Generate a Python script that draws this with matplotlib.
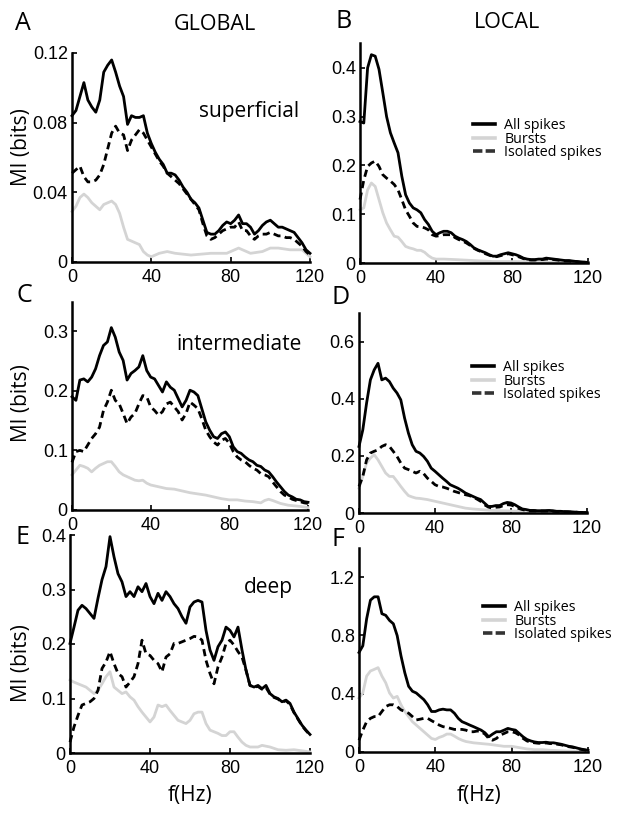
import matplotlib
matplotlib.use("Agg")
import matplotlib.pyplot as plt
from matplotlib.lines import Line2D

# ---------------- data ----------------
freq = list(range(0, 121, 2))

# Panel A (GLOBAL, superficial)
A_all = [0.084, 0.087, 0.095, 0.103, 0.093, 0.089, 0.086, 0.093, 0.109, 0.113, 0.116,
         0.109, 0.101, 0.095, 0.079, 0.084, 0.083, 0.083, 0.084, 0.074, 0.068,
         0.063, 0.059, 0.056, 0.051, 0.051, 0.050, 0.047, 0.043, 0.040, 0.036,
         0.034, 0.031, 0.024, 0.017, 0.016, 0.016, 0.018, 0.021, 0.023, 0.022,
         0.024, 0.027, 0.022, 0.022, 0.020, 0.016, 0.018, 0.021, 0.023, 0.024,
         0.022, 0.020, 0.020, 0.019, 0.018, 0.017, 0.014, 0.011, 0.007, 0.005]
A_iso = [0.051, 0.053, 0.055, 0.049, 0.046, 0.046, 0.047, 0.050, 0.056, 0.065, 0.074,
         0.078, 0.074, 0.073, 0.064, 0.070, 0.073, 0.076, 0.074, 0.070, 0.066,
         0.062, 0.058, 0.055, 0.051, 0.049, 0.047, 0.045, 0.042, 0.039, 0.036,
         0.033, 0.030, 0.022, 0.015, 0.013, 0.014, 0.016, 0.018, 0.019, 0.020,
         0.020, 0.023, 0.018, 0.018, 0.015, 0.013, 0.015, 0.016, 0.016, 0.017,
         0.016, 0.015, 0.015, 0.014, 0.014, 0.013, 0.011, 0.009, 0.006, 0.004]
A_burst_f = [0, 2, 4, 6, 8, 10, 12, 14, 16, 18, 20, 22, 24, 26, 28, 30, 32, 34, 36, 38,
             40, 44, 48, 52, 60, 70, 78, 84, 90, 96, 100, 104, 110, 116, 120]
A_burst = [0.029, 0.032, 0.037, 0.039, 0.037, 0.034, 0.032, 0.030, 0.033, 0.034, 0.035,
           0.033, 0.028, 0.020, 0.013, 0.012, 0.011, 0.010, 0.006, 0.004,
           0.003, 0.005, 0.006, 0.005, 0.004, 0.005, 0.005, 0.008, 0.005, 0.006,
           0.008, 0.008, 0.007, 0.007, 0.003]

# Panel B (LOCAL, superficial)
B_all = [0.290, 0.287, 0.400, 0.427, 0.424, 0.397, 0.349, 0.300, 0.267, 0.246, 0.226,
         0.178, 0.140, 0.123, 0.113, 0.109, 0.103, 0.089, 0.079, 0.065, 0.058,
         0.062, 0.065, 0.065, 0.062, 0.055, 0.051, 0.048, 0.044, 0.038, 0.031,
         0.027, 0.024, 0.021, 0.017, 0.014, 0.014, 0.017, 0.019, 0.021, 0.019,
         0.017, 0.014, 0.010, 0.008, 0.007, 0.007, 0.008, 0.008, 0.010, 0.009,
         0.008, 0.007, 0.006, 0.005, 0.005, 0.004, 0.003, 0.002, 0.002, 0.001]
B_iso = [0.130, 0.170, 0.198, 0.205, 0.209, 0.198, 0.181, 0.174, 0.168, 0.161, 0.150,
         0.130, 0.109, 0.096, 0.082, 0.075, 0.074, 0.072, 0.068, 0.058, 0.055,
         0.056, 0.058, 0.058, 0.058, 0.052, 0.048, 0.045, 0.041, 0.036, 0.030,
         0.026, 0.023, 0.019, 0.016, 0.013, 0.013, 0.015, 0.017, 0.019, 0.017,
         0.015, 0.012, 0.009, 0.007, 0.006, 0.006, 0.007, 0.007, 0.008, 0.008,
         0.007, 0.006, 0.005, 0.004, 0.004, 0.003, 0.003, 0.002, 0.001, 0.001]
B_burst_f = [0, 2, 4, 6, 8, 10, 12, 14, 16, 18, 20, 22, 24, 26, 28, 30, 32, 34, 36, 38,
             40, 44, 50, 60, 70, 80, 100, 120]
B_burst = [0.109, 0.113, 0.150, 0.164, 0.157, 0.130, 0.103, 0.082, 0.068, 0.055, 0.053,
           0.044, 0.034, 0.031, 0.029, 0.026, 0.026, 0.022, 0.015, 0.010,
           0.008, 0.008, 0.007, 0.005, 0.003, 0.003, 0.002, 0.001]

# Panel C (GLOBAL, intermediate)
C_all = [0.190, 0.184, 0.218, 0.220, 0.215, 0.223, 0.237, 0.259, 0.276, 0.282, 0.306,
         0.290, 0.265, 0.251, 0.218, 0.229, 0.234, 0.240, 0.259, 0.234, 0.223,
         0.220, 0.209, 0.198, 0.215, 0.206, 0.201, 0.187, 0.173, 0.184, 0.201,
         0.198, 0.192, 0.170, 0.148, 0.134, 0.123, 0.120, 0.128, 0.131, 0.123,
         0.106, 0.098, 0.095, 0.089, 0.084, 0.081, 0.075, 0.073, 0.067, 0.064,
         0.056, 0.047, 0.039, 0.031, 0.025, 0.022, 0.018, 0.017, 0.014, 0.013]
C_iso = [0.080, 0.098, 0.100, 0.098, 0.109, 0.120, 0.128, 0.139, 0.167, 0.181, 0.201,
         0.184, 0.178, 0.162, 0.145, 0.156, 0.162, 0.178, 0.192, 0.190, 0.173,
         0.167, 0.159, 0.165, 0.178, 0.181, 0.173, 0.165, 0.151, 0.162, 0.181,
         0.176, 0.170, 0.153, 0.134, 0.123, 0.114, 0.109, 0.117, 0.120, 0.112,
         0.098, 0.089, 0.084, 0.081, 0.075, 0.070, 0.067, 0.061, 0.059, 0.056,
         0.047, 0.039, 0.031, 0.025, 0.022, 0.018, 0.016, 0.014, 0.012, 0.011]
C_burst_f = [0, 2, 4, 6, 8, 10, 12, 14, 16, 18, 20, 22, 24, 26, 28, 30, 32, 34, 36, 38,
             40, 44, 48, 52, 56, 60, 64, 68, 72, 76, 80, 84, 88, 92, 96, 98, 100, 102,
             106, 110, 116, 120]
C_burst = [0.059, 0.067, 0.075, 0.073, 0.070, 0.064, 0.070, 0.075, 0.078, 0.081, 0.081,
           0.073, 0.064, 0.059, 0.056, 0.053, 0.050, 0.049, 0.050, 0.045,
           0.042, 0.039, 0.036, 0.035, 0.032, 0.029, 0.027, 0.025, 0.022, 0.019,
           0.017, 0.017, 0.015, 0.014, 0.012, 0.016, 0.018, 0.016,
           0.011, 0.008, 0.006, 0.004]

# Panel D (LOCAL, intermediate)
D_all = [0.233, 0.291, 0.385, 0.466, 0.501, 0.524, 0.466, 0.472, 0.460, 0.437, 0.420,
         0.396, 0.332, 0.280, 0.239, 0.216, 0.210, 0.198, 0.181, 0.157, 0.146,
         0.134, 0.122, 0.111, 0.099, 0.093, 0.087, 0.079, 0.070, 0.064, 0.058,
         0.052, 0.047, 0.035, 0.023, 0.023, 0.026, 0.026, 0.033, 0.037, 0.035,
         0.029, 0.021, 0.014, 0.012, 0.009, 0.009, 0.008, 0.008, 0.008, 0.009,
         0.008, 0.006, 0.006, 0.005, 0.005, 0.004, 0.003, 0.002, 0.002, 0.002]
D_iso = [0.093, 0.128, 0.186, 0.210, 0.216, 0.221, 0.233, 0.239, 0.233, 0.216, 0.198,
         0.175, 0.157, 0.152, 0.146, 0.140, 0.146, 0.138, 0.122, 0.111, 0.099,
         0.093, 0.091, 0.087, 0.082, 0.076, 0.072, 0.068, 0.064, 0.061, 0.056,
         0.049, 0.041, 0.029, 0.021, 0.017, 0.020, 0.021, 0.026, 0.029, 0.028,
         0.023, 0.016, 0.012, 0.009, 0.007, 0.007, 0.007, 0.007, 0.007, 0.007,
         0.006, 0.005, 0.004, 0.004, 0.003, 0.003, 0.003, 0.002, 0.002, 0.002]
D_burst_f = [0, 2, 4, 6, 8, 10, 12, 14, 16, 18, 20, 22, 24, 26, 28, 30, 32, 34, 36, 38,
             40, 44, 48, 52, 56, 60, 70, 80, 90, 100, 120]
D_burst = [0.087, 0.128, 0.175, 0.192, 0.204, 0.186, 0.163, 0.140, 0.128, 0.128, 0.111,
           0.093, 0.076, 0.061, 0.056, 0.052, 0.051, 0.049, 0.047, 0.044,
           0.041, 0.035, 0.029, 0.023, 0.017, 0.014, 0.009, 0.007, 0.005, 0.003, 0.002]

# Panel E (GLOBAL, deep)
E_all = [0.201, 0.231, 0.262, 0.271, 0.265, 0.256, 0.247, 0.284, 0.318, 0.342, 0.397,
         0.360, 0.329, 0.314, 0.287, 0.296, 0.287, 0.305, 0.296, 0.311, 0.287,
         0.274, 0.293, 0.280, 0.296, 0.287, 0.274, 0.265, 0.250, 0.238, 0.268,
         0.277, 0.280, 0.277, 0.225, 0.189, 0.170, 0.195, 0.207, 0.231, 0.225,
         0.213, 0.231, 0.189, 0.152, 0.124, 0.121, 0.124, 0.118, 0.124, 0.109,
         0.103, 0.100, 0.094, 0.097, 0.091, 0.075, 0.063, 0.051, 0.042, 0.034]
E_iso = [0.020, 0.048, 0.069, 0.088, 0.091, 0.094, 0.100, 0.115, 0.155, 0.167, 0.186,
         0.164, 0.146, 0.140, 0.121, 0.130, 0.140, 0.164, 0.207, 0.182, 0.179,
         0.170, 0.164, 0.149, 0.176, 0.182, 0.201, 0.201, 0.204, 0.207, 0.210,
         0.214, 0.213, 0.207, 0.170, 0.146, 0.127, 0.158, 0.176, 0.201, 0.207,
         0.198, 0.186, 0.176, 0.152, 0.124, 0.121, 0.122, 0.117, 0.120, 0.108,
         0.102, 0.099, 0.093, 0.096, 0.089, 0.074, 0.062, 0.050, 0.041, 0.033]
E_burst_f = [0, 2, 4, 6, 8, 10, 12, 14, 16, 18, 20, 22, 24, 26, 28, 30, 32, 34, 36, 38,
             40, 42, 44, 46, 48, 50, 52, 54, 56, 58, 60, 62, 64, 66, 68, 70, 72, 74,
             76, 78, 80, 82, 84, 86, 88, 90, 94, 96, 100, 104, 108, 112, 116, 120]
E_burst = [0.134, 0.130, 0.127, 0.124, 0.121, 0.115, 0.109, 0.115, 0.127, 0.140, 0.149,
           0.121, 0.115, 0.109, 0.112, 0.103, 0.097, 0.085, 0.075, 0.066,
           0.057, 0.066, 0.088, 0.085, 0.088, 0.078, 0.069, 0.060, 0.057, 0.054,
           0.060, 0.072, 0.075, 0.075, 0.054, 0.042, 0.039, 0.036,
           0.032, 0.032, 0.039, 0.039, 0.029, 0.020, 0.014, 0.011, 0.011, 0.014,
           0.011, 0.006, 0.005, 0.006, 0.004, 0.002]

# Panel F (LOCAL, deep)
F_all = [0.683, 0.729, 0.914, 1.042, 1.065, 1.065, 0.949, 0.938, 0.903, 0.880, 0.799,
         0.660, 0.544, 0.451, 0.417, 0.405, 0.382, 0.359, 0.324, 0.278, 0.278,
         0.289, 0.294, 0.289, 0.289, 0.266, 0.231, 0.208, 0.197, 0.185, 0.174,
         0.162, 0.150, 0.132, 0.104, 0.123, 0.139, 0.139, 0.150, 0.162, 0.155,
         0.150, 0.127, 0.104, 0.086, 0.076, 0.069, 0.065, 0.065, 0.067, 0.063,
         0.063, 0.058, 0.053, 0.046, 0.039, 0.035, 0.028, 0.021, 0.016, 0.012]
F_iso = [0.081, 0.150, 0.208, 0.231, 0.243, 0.243, 0.278, 0.312, 0.324, 0.324, 0.312,
         0.289, 0.278, 0.266, 0.243, 0.220, 0.225, 0.231, 0.231, 0.215, 0.201,
         0.185, 0.174, 0.169, 0.162, 0.155, 0.155, 0.155, 0.150, 0.139, 0.139,
         0.144, 0.139, 0.123, 0.093, 0.081, 0.093, 0.116, 0.127, 0.139, 0.139,
         0.132, 0.116, 0.093, 0.076, 0.067, 0.063, 0.060, 0.060, 0.062, 0.058,
         0.058, 0.053, 0.049, 0.042, 0.036, 0.032, 0.025, 0.019, 0.014, 0.010]
F_burst_f = [0, 2, 4, 6, 8, 10, 12, 14, 16, 18, 20, 22, 24, 26, 28, 30, 32, 34, 36, 38,
             40, 42, 44, 46, 48, 50, 52, 54, 56, 60, 64, 68, 72, 76, 80, 84, 88, 92,
             96, 100, 108, 120]
F_burst = [0.370, 0.405, 0.521, 0.556, 0.567, 0.579, 0.521, 0.475, 0.405, 0.370, 0.382,
           0.324, 0.278, 0.243, 0.208, 0.185, 0.162, 0.139, 0.116, 0.093,
           0.086, 0.100, 0.109, 0.123, 0.123, 0.109, 0.093, 0.081, 0.072, 0.063,
           0.058, 0.053, 0.046, 0.039, 0.039, 0.030, 0.021, 0.016,
           0.016, 0.012, 0.007, 0.002]

x_ticks = [0, 40, 80, 120]
x_ticklabels = ["0", "40", "80", "120"]
A_yticks = [0, 0.04, 0.08, 0.12]; A_ylabels = ["0", "0.04", "0.08", "0.12"]
B_yticks = [0, 0.1, 0.2, 0.3, 0.4]; B_ylabels = ["0", "0.1", "0.2", "0.3", "0.4"]
C_yticks = [0, 0.1, 0.2, 0.3]; C_ylabels = ["0", "0.1", "0.2", "0.3"]
D_yticks = [0, 0.2, 0.4, 0.6]; D_ylabels = ["0", "0.2", "0.4", "0.6"]
E_yticks = [0, 0.1, 0.2, 0.3, 0.4]; E_ylabels = ["0", "0.1", "0.2", "0.3", "0.4"]
F_yticks = [0, 0.4, 0.8, 1.2]; F_ylabels = ["0", "0.4", "0.8", "1.2"]

series_labels = ["All spikes", "Bursts", "Isolated spikes"]

# ---------------- figure ----------------
W, H = 624, 815
fig = plt.figure(figsize=(W / 100, H / 100), dpi=100)

TICKFONT = "Liberation Sans"
TEXTFONT = "Open Sans"
GRAY = "#d4d4d4"
DASH = (0, (2.6, 1.6))


def px_axes(left, top, right, bottom):
    return fig.add_axes([left / W, 1 - bottom / H, (right - left) / W, (bottom - top) / H])


def setup(ax, ytop, yticks, ylabels):
    ax.set_xlim(0, 120)
    ax.set_ylim(0, ytop)
    for s in ["top", "right"]:
        ax.spines[s].set_visible(False)
    for s in ["left", "bottom"]:
        ax.spines[s].set_linewidth(1.8)
    ax.set_xticks(x_ticks)
    ax.set_xticklabels(x_ticklabels, fontfamily=TICKFONT, fontsize=13)
    ax.set_yticks(yticks)
    ax.set_yticklabels(ylabels, fontfamily=TICKFONT, fontsize=13)
    ax.tick_params(direction="in", length=3.5, width=1.2)
    ax.tick_params(axis="y", pad=3)
    ax.tick_params(axis="x", pad=5)
    ax.patch.set_visible(False)


def draw(ax, all_v, iso_v, bf, bv):
    ax.plot(bf, bv, color=GRAY, lw=2.0, clip_on=False, zorder=2)
    ax.plot(freq, iso_v, color="black", lw=2.0, ls=DASH, clip_on=False, zorder=3)
    ax.plot(freq, all_v, color="black", lw=2.0, clip_on=False, zorder=4)


def add_legend(ax, x_px, y_px):
    handles = [Line2D([], [], color="black", lw=2.6),
               Line2D([], [], color=GRAY, lw=2.6),
               Line2D([], [], color="#333333", lw=2.6, ls=(0, (2.6, 0.9)))]
    ax.legend(handles, series_labels, loc="upper left",
              bbox_to_anchor=(x_px / W, 1 - y_px / H), bbox_transform=fig.transFigure,
              frameon=False, handlelength=1.55, handletextpad=0.65, labelspacing=-0.1,
              borderpad=0, borderaxespad=0,
              prop={"family": TEXTFONT, "size": 10.3})


axA = px_axes(72, 53, 310, 262)
setup(axA, 0.12, A_yticks, A_ylabels)
draw(axA, A_all, A_iso, A_burst_f, A_burst)

axB = px_axes(360, 43, 588, 263)
setup(axB, 0.451, B_yticks, B_ylabels)
draw(axB, B_all, B_iso, B_burst_f, B_burst)
add_legend(axB, 473, 118)

axC = px_axes(72, 302, 308, 510)
setup(axC, 0.349, C_yticks, C_ylabels)
draw(axC, C_all, C_iso, C_burst_f, C_burst)

axD = px_axes(359, 313, 587, 513)
setup(axD, 0.70, D_yticks, D_ylabels)
draw(axD, D_all, D_iso, D_burst_f, D_burst)
add_legend(axD, 472, 360)

axE = px_axes(70, 535, 310, 753)
setup(axE, 0.40, E_yticks, E_ylabels)
draw(axE, E_all, E_iso, E_burst_f, E_burst)

axF = px_axes(359, 548, 588, 752)
setup(axF, 1.40, F_yticks, F_ylabels)
draw(axF, F_all, F_iso, F_burst_f, F_burst)
add_legend(axF, 483, 600)


def ftext(x, y, s, size, **kw):
    fig.text(x / W, 1 - y / H, s, fontsize=size, fontfamily=TEXTFONT,
             ha="center", va="center", **kw)


# panel letters
ftext(23, 24, "A", 18)
ftext(344, 22, "B", 18)
ftext(24, 295, "C", 18)
ftext(341, 298, "D", 18)
ftext(22, 538, "E", 18)
ftext(338, 540, "F", 18)

# column titles & layer names
ftext(215, 25, "GLOBAL", 15.5)
ftext(507, 23, "LOCAL", 15.5)
ftext(249, 112, "superficial", 15)
ftext(239, 344, "intermediate", 15)
ftext(268, 588, "deep", 15)

# axis labels
ftext(22, 147, "MI (bits)", 15, rotation=90)
ftext(22, 403, "MI (bits)", 15, rotation=90)
ftext(22, 663, "MI (bits)", 15, rotation=90)
ftext(190, 795, "f(Hz)", 15)
ftext(479, 795, "f(Hz)", 15)

fig.savefig("out.png", dpi=100)
